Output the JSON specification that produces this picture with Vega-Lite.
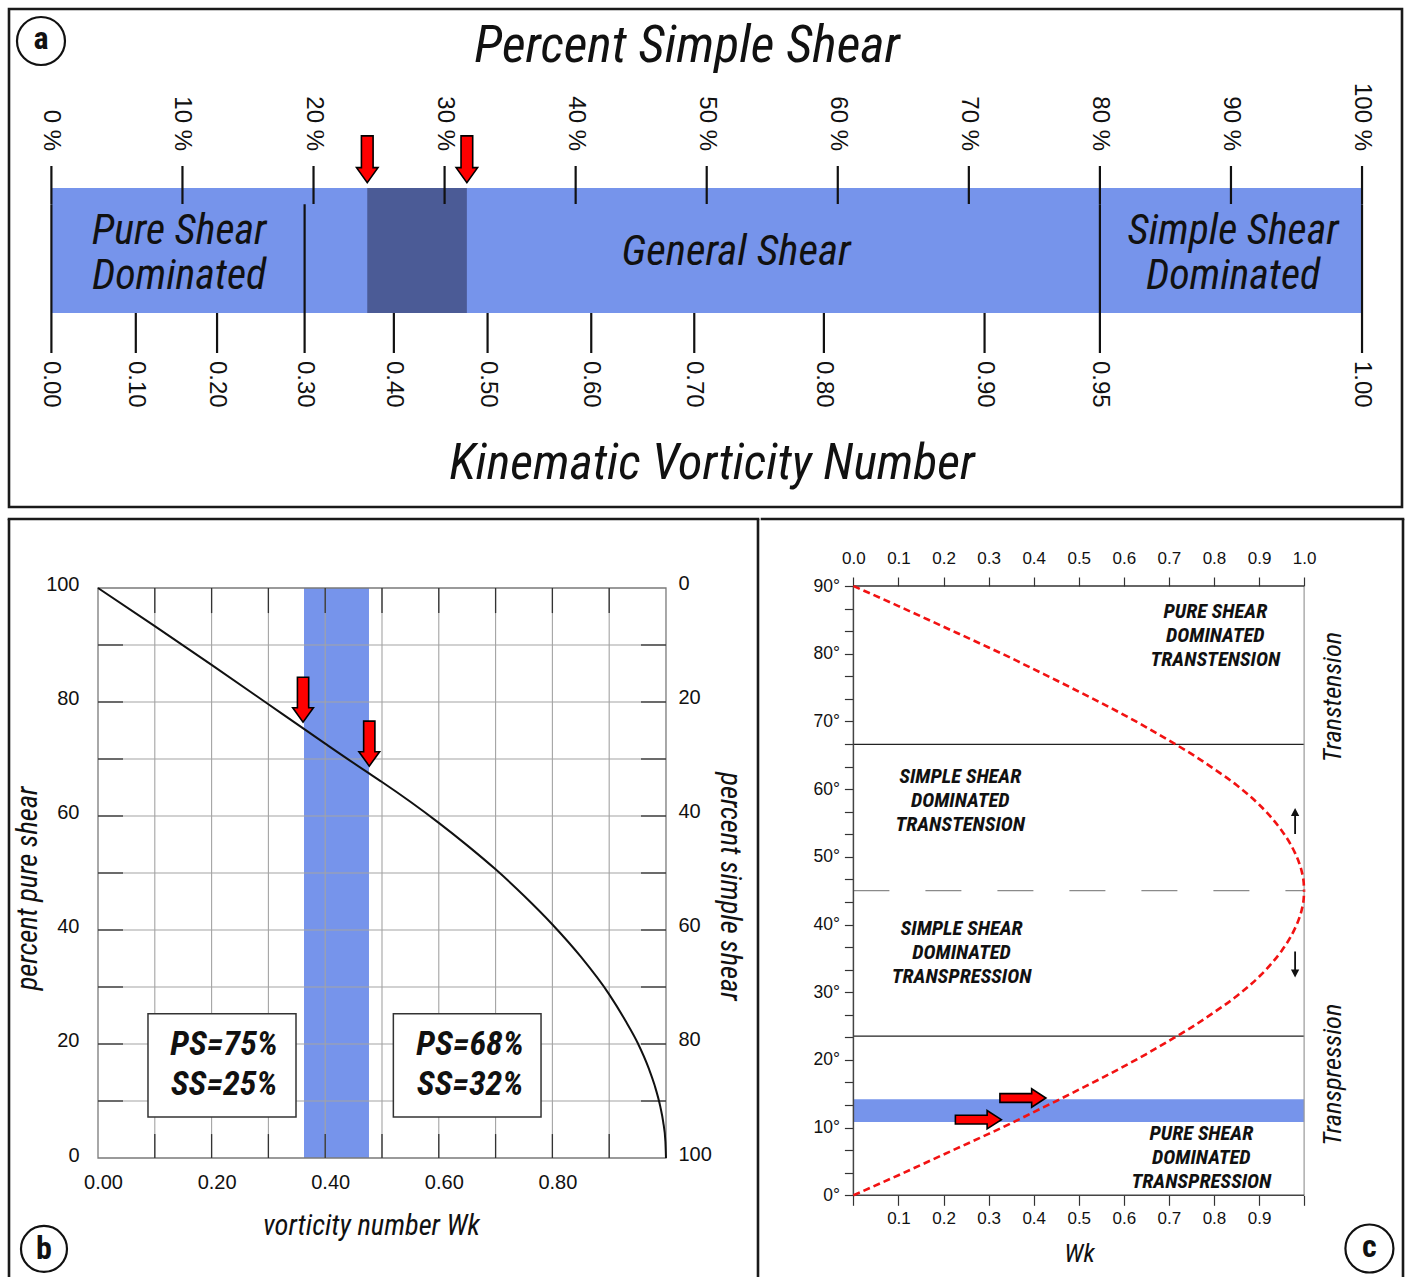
{
  "$schema": "https://vega.github.io/schema/vega-lite/v6.json",
  "background": "white",
  "padding": {"left": 7, "top": 7, "right": 2, "bottom": 0},
  "spacing": 8,
  "config": {
    "view": {"stroke": "#1a1a1a", "strokeWidth": 2.6},
    "axis": {"grid": false, "domain": false, "labelFont": "Liberation Sans, Arial, sans-serif", "labelColor": "#111", "titleFont": "Roboto Condensed, Liberation Sans Narrow, DejaVu Sans Condensed, sans-serif", "titleFontStyle": "italic", "titleFontWeight": "normal", "titleColor": "#111", "tickColor": "#333", "labelOverlap": false, "labelFlush": false, "zindex": 1}
  },
  "datasets": {
    "a_top": [
      {"ss": 0, "label": "0 %"}, {"ss": 10, "label": "10 %"}, {"ss": 20, "label": "20 %"}, {"ss": 30, "label": "30 %"},
      {"ss": 40, "label": "40 %"}, {"ss": 50, "label": "50 %"}, {"ss": 60, "label": "60 %"}, {"ss": 70, "label": "70 %"},
      {"ss": 80, "label": "80 %"}, {"ss": 90, "label": "90 %"}, {"ss": 100, "label": "100 %"}
    ],
    "a_bottom": [
      {"wk": "0.00", "ss": 0}, {"wk": "0.10", "ss": 6.44}, {"wk": "0.20", "ss": 12.64}, {"wk": "0.30", "ss": 19.32},
      {"wk": "0.40", "ss": 26.13}, {"wk": "0.50", "ss": 33.28}, {"wk": "0.60", "ss": 41.19}, {"wk": "0.70", "ss": 49.05},
      {"wk": "0.80", "ss": 58.94}, {"wk": "0.90", "ss": 71.2}, {"wk": "0.95", "ss": 80}, {"wk": "1.00", "ss": 100}
    ],
    "b_curve": [
      {"wk": 0, "ps": 100}, {"wk": 0.1, "ps": 93.3}, {"wk": 0.2, "ps": 86.5}, {"wk": 0.3, "ps": 79.6},
      {"wk": 0.36, "ps": 75.45}, {"wk": 0.4, "ps": 72.7}, {"wk": 0.47, "ps": 67.95}, {"wk": 0.5, "ps": 65.97},
      {"wk": 0.55, "ps": 62.5}, {"wk": 0.6, "ps": 58.8}, {"wk": 0.65, "ps": 54.85}, {"wk": 0.7, "ps": 50.64},
      {"wk": 0.75, "ps": 46.01}, {"wk": 0.8, "ps": 40.97}, {"wk": 0.85, "ps": 35.32}, {"wk": 0.9, "ps": 28.71},
      {"wk": 0.93, "ps": 23.85}, {"wk": 0.95, "ps": 20.22}, {"wk": 0.97, "ps": 15.63}, {"wk": 0.98, "ps": 12.75},
      {"wk": 0.99, "ps": 9.01}, {"wk": 0.995, "ps": 6.37}, {"wk": 0.999, "ps": 2.85}, {"wk": 1.0, "ps": 0}
    ],
    "c_curve": [
      {"branch": "transtension", "wk": 0, "angle": 90}, {"branch": "transtension", "wk": 0.1, "angle": 87.03},
      {"branch": "transtension", "wk": 0.2, "angle": 83.98}, {"branch": "transtension", "wk": 0.3, "angle": 80.92},
      {"branch": "transtension", "wk": 0.35, "angle": 79.36}, {"branch": "transtension", "wk": 0.4, "angle": 77.71},
      {"branch": "transtension", "wk": 0.45, "angle": 76.08}, {"branch": "transtension", "wk": 0.5, "angle": 74.4},
      {"branch": "transtension", "wk": 0.55, "angle": 72.72}, {"branch": "transtension", "wk": 0.6, "angle": 70.96},
      {"branch": "transtension", "wk": 0.65, "angle": 69.13}, {"branch": "transtension", "wk": 0.7, "angle": 67.19},
      {"branch": "transtension", "wk": 0.75, "angle": 65.2}, {"branch": "transtension", "wk": 0.8, "angle": 62.98},
      {"branch": "transtension", "wk": 0.85, "angle": 60.6}, {"branch": "transtension", "wk": 0.9, "angle": 57.72},
      {"branch": "transtension", "wk": 0.93, "angle": 55.59}, {"branch": "transtension", "wk": 0.95, "angle": 53.9},
      {"branch": "transtension", "wk": 0.97, "angle": 51.84}, {"branch": "transtension", "wk": 0.98, "angle": 50.54},
      {"branch": "transtension", "wk": 0.99, "angle": 48.9}, {"branch": "transtension", "wk": 0.995, "angle": 47.75},
      {"branch": "transtension", "wk": 0.999, "angle": 46.25}, {"branch": "transtension", "wk": 1.0, "angle": 45},
      {"branch": "transpression", "wk": 0, "angle": 0}, {"branch": "transpression", "wk": 0.1, "angle": 2.97},
      {"branch": "transpression", "wk": 0.2, "angle": 6.02}, {"branch": "transpression", "wk": 0.3, "angle": 9.08},
      {"branch": "transpression", "wk": 0.35, "angle": 10.64}, {"branch": "transpression", "wk": 0.4, "angle": 12.29},
      {"branch": "transpression", "wk": 0.45, "angle": 13.92}, {"branch": "transpression", "wk": 0.5, "angle": 15.6},
      {"branch": "transpression", "wk": 0.55, "angle": 17.28}, {"branch": "transpression", "wk": 0.6, "angle": 19.04},
      {"branch": "transpression", "wk": 0.65, "angle": 20.87}, {"branch": "transpression", "wk": 0.7, "angle": 22.81},
      {"branch": "transpression", "wk": 0.75, "angle": 24.8}, {"branch": "transpression", "wk": 0.8, "angle": 27.02},
      {"branch": "transpression", "wk": 0.85, "angle": 29.4}, {"branch": "transpression", "wk": 0.9, "angle": 32.28},
      {"branch": "transpression", "wk": 0.93, "angle": 34.41}, {"branch": "transpression", "wk": 0.95, "angle": 36.1},
      {"branch": "transpression", "wk": 0.97, "angle": 38.16}, {"branch": "transpression", "wk": 0.98, "angle": 39.46},
      {"branch": "transpression", "wk": 0.99, "angle": 41.1}, {"branch": "transpression", "wk": 0.995, "angle": 42.25},
      {"branch": "transpression", "wk": 0.999, "angle": 43.75}, {"branch": "transpression", "wk": 1.0, "angle": 45}
    ]
  },
  "vconcat": [
    {
      "width": 1393,
      "height": 498,
      "layer": [
        {
          "data": {"values": [{"zone": "shear bar", "from": 0, "to": 100}]},
          "mark": {"type": "rect", "color": "#7694EB"},
          "encoding": {
            "x": {"field": "from", "type": "quantitative", "scale": {"domain": [-3.235, 103.05], "nice": false, "zero": false}, "axis": null},
            "x2": {"field": "to"},
            "y": {"datum": 0, "type": "quantitative", "scale": {"domain": [-1.552, 2.432], "nice": false, "zero": false}, "axis": null},
            "y2": {"datum": 1}
          }
        },
        {
          "data": {"values": [{"zone": "observed range", "from": 24.1, "to": 31.7}]},
          "mark": {"type": "rect", "color": "#4B5B96"},
          "encoding": {
            "x": {"field": "from", "type": "quantitative", "axis": null},
            "x2": {"field": "to"},
            "y": {"datum": 0, "type": "quantitative", "axis": null},
            "y2": {"datum": 1}
          }
        },
        {
          "data": {"values": [{"ss": 0}, {"ss": 19.32}, {"ss": 80}, {"ss": 100}]},
          "mark": {"type": "rule", "color": "#111", "strokeWidth": 2.2},
          "encoding": {
            "x": {"field": "ss", "type": "quantitative", "axis": null},
            "y": {"datum": 0.87, "type": "quantitative", "axis": null},
            "y2": {"datum": 0}
          }
        },
        {
          "data": {"name": "a_top"},
          "mark": {"type": "rule", "color": "#111", "strokeWidth": 2.2},
          "encoding": {
            "x": {"field": "ss", "type": "quantitative", "axis": null},
            "y": {"datum": 1.176, "type": "quantitative", "axis": null},
            "y2": {"datum": 0.872}
          }
        },
        {
          "data": {"name": "a_top"},
          "mark": {"type": "text", "angle": 90, "align": "right", "baseline": "middle", "fontSize": 24, "font": "Liberation Sans, Arial, sans-serif", "color": "#111"},
          "encoding": {
            "x": {"field": "ss", "type": "quantitative", "axis": null},
            "y": {"datum": 1.296, "type": "quantitative", "axis": null},
            "text": {"field": "label"}
          }
        },
        {
          "data": {"name": "a_bottom"},
          "mark": {"type": "rule", "color": "#111", "strokeWidth": 2.2},
          "encoding": {
            "x": {"field": "ss", "type": "quantitative", "axis": null},
            "y": {"datum": 0, "type": "quantitative", "axis": null},
            "y2": {"datum": -0.32}
          }
        },
        {
          "data": {"name": "a_bottom"},
          "mark": {"type": "text", "angle": 90, "align": "left", "baseline": "middle", "fontSize": 24, "font": "Liberation Sans, Arial, sans-serif", "color": "#111"},
          "encoding": {
            "x": {"field": "ss", "type": "quantitative", "axis": null},
            "y": {"datum": -0.384, "type": "quantitative", "axis": null},
            "text": {"field": "wk"}
          }
        },
        {
          "data": {"values": [
            {"zone": "Pure Shear Dominated", "mid": 9.74, "lines": ["Pure Shear", "Dominated"]},
            {"zone": "Simple Shear Dominated", "mid": 90.16, "lines": ["Simple Shear", "Dominated"]}
          ]},
          "mark": {"type": "text", "font": "Roboto Condensed, Liberation Sans Narrow, DejaVu Sans Condensed, sans-serif", "fontStyle": "italic", "fontSize": 42, "lineHeight": 45, "baseline": "middle", "align": "center", "color": "#111"},
          "encoding": {
            "x": {"field": "mid", "type": "quantitative", "axis": null},
            "y": {"datum": 0.656, "type": "quantitative", "axis": null},
            "text": {"field": "lines"}
          }
        },
        {
          "data": {"values": [{"zone": "General Shear", "mid": 52.24, "lines": ["General Shear"]}]},
          "mark": {"type": "text", "font": "Roboto Condensed, Liberation Sans Narrow, DejaVu Sans Condensed, sans-serif", "fontStyle": "italic", "fontSize": 43, "baseline": "middle", "align": "center", "color": "#111"},
          "encoding": {
            "x": {"field": "mid", "type": "quantitative", "axis": null},
            "y": {"datum": 0.488, "type": "quantitative", "axis": null},
            "text": {"field": "lines"}
          }
        },
        {
          "data": {"values": [{"ss": 24.1}, {"ss": 31.7}]},
          "mark": {"type": "point", "shape": "M-0.25,-1L0.25,-1L0.25,0.36L0.46,0.36L0,1L-0.46,0.36L-0.25,0.36Z", "size": 2180, "filled": true, "fill": "#FF0000", "stroke": "#000", "strokeWidth": 1.6, "opacity": 1},
          "encoding": {
            "x": {"field": "ss", "type": "quantitative", "axis": null},
            "y": {"datum": 1.23, "type": "quantitative", "axis": null}
          }
        },
        {
          "data": {"values": [{}]},
          "mark": {"type": "text", "font": "Roboto Condensed, Liberation Sans Narrow, DejaVu Sans Condensed, sans-serif", "fontStyle": "italic", "fontSize": 52, "baseline": "middle", "align": "center", "color": "#111"},
          "encoding": {
            "x": {"datum": 48.5, "type": "quantitative", "axis": null},
            "y": {"datum": 2.136, "type": "quantitative", "axis": null},
            "text": {"value": "Percent Simple Shear"}
          }
        },
        {
          "data": {"values": [{}]},
          "mark": {"type": "text", "font": "Roboto Condensed, Liberation Sans Narrow, DejaVu Sans Condensed, sans-serif", "fontStyle": "italic", "fontSize": 50, "baseline": "middle", "align": "center", "color": "#111"},
          "encoding": {
            "x": {"datum": 50.4, "type": "quantitative", "axis": null},
            "y": {"datum": -1.208, "type": "quantitative", "axis": null},
            "text": {"value": "Kinematic Vorticity Number"}
          }
        },
        {
          "data": {"values": [{}]},
          "mark": {"type": "point", "shape": "circle", "size": 2304, "filled": false, "color": "#111", "strokeWidth": 2.2, "opacity": 1},
          "encoding": {
            "x": {"datum": -0.794, "type": "quantitative", "axis": null},
            "y": {"datum": 2.176, "type": "quantitative", "axis": null}
          }
        },
        {
          "data": {"values": [{}]},
          "mark": {"type": "text", "font": "Roboto Condensed, Liberation Sans Narrow, DejaVu Sans Condensed, sans-serif", "fontWeight": "bold", "fontSize": 32, "baseline": "middle", "align": "center", "color": "#111", "dy": -2},
          "encoding": {
            "x": {"datum": -0.794, "type": "quantitative", "axis": null},
            "y": {"datum": 2.176, "type": "quantitative", "axis": null},
            "text": {"value": "a"}
          }
        }
      ]
    },
    {
      "hconcat": [
        {
          "width": 749,
          "height": 760,
          "view": {"stroke": null},
          "resolve": {"axis": {"x": "independent", "y": "independent"}},
          "layer": [
            {
              "data": {"values": [{"range": "observed", "from": 0.3627, "to": 0.4771}]},
              "mark": {"type": "rect", "color": "#7694EB"},
              "encoding": {
                "x": {"field": "from", "type": "quantitative", "axis": null},
                "x2": {"field": "to"},
                "y": {"datum": 0, "type": "quantitative", "axis": null},
                "y2": {"datum": 100}
              }
            },
            {
              "data": {"values": [{"wk": 0.1}, {"wk": 0.2}, {"wk": 0.3}, {"wk": 0.4}, {"wk": 0.5}, {"wk": 0.6}, {"wk": 0.7}, {"wk": 0.8}, {"wk": 0.9}]},
              "mark": {"type": "rule", "color": "#a3a3a3", "strokeWidth": 1.1},
              "encoding": {
                "x": {"field": "wk", "type": "quantitative", "axis": null},
                "y": {"datum": 0, "type": "quantitative", "axis": null},
                "y2": {"datum": 100}
              }
            },
            {
              "data": {"values": [{"ps": 10}, {"ps": 20}, {"ps": 30}, {"ps": 40}, {"ps": 50}, {"ps": 60}, {"ps": 70}, {"ps": 80}, {"ps": 90}]},
              "mark": {"type": "rule", "color": "#a3a3a3", "strokeWidth": 1.1},
              "encoding": {
                "y": {"field": "ps", "type": "quantitative", "axis": null},
                "x": {"datum": 0, "type": "quantitative", "axis": null},
                "x2": {"datum": 1}
              }
            },
            {
              "data": {"values": [{}]},
              "mark": {"type": "rect", "fill": "transparent", "stroke": "#7a7a7a", "strokeWidth": 1.3},
              "encoding": {
                "x": {"datum": 0, "type": "quantitative", "axis": null},
                "x2": {"datum": 1},
                "y": {"datum": 0, "type": "quantitative", "axis": null},
                "y2": {"datum": 100}
              }
            },
            {
              "data": {"values": [{"wk": 0.1}, {"wk": 0.2}, {"wk": 0.3}, {"wk": 0.4}, {"wk": 0.5}, {"wk": 0.6}, {"wk": 0.7}, {"wk": 0.8}, {"wk": 0.9}]},
              "mark": {"type": "rule", "color": "#333", "strokeWidth": 1.3},
              "encoding": {
                "x": {"field": "wk", "type": "quantitative", "axis": null},
                "y": {"datum": 100, "type": "quantitative", "axis": null},
                "y2": {"datum": 95.6}
              }
            },
            {
              "data": {"values": [{"wk": 0.1}, {"wk": 0.2}, {"wk": 0.3}, {"wk": 0.4}, {"wk": 0.5}, {"wk": 0.6}, {"wk": 0.7}, {"wk": 0.8}, {"wk": 0.9}]},
              "mark": {"type": "rule", "color": "#333", "strokeWidth": 1.3},
              "encoding": {
                "x": {"field": "wk", "type": "quantitative",
                  "axis": {"orient": "bottom", "offset": -121, "values": [0, 0.2, 0.4, 0.6, 0.8], "format": ".2f", "ticks": false, "labelPadding": 14, "labelFontSize": 20, "labelOffset": 5, "title": "vorticity number Wk", "titleFontSize": 28.5, "titlePadding": 19, "titleX": 362}},
                "y": {"datum": 0, "type": "quantitative", "axis": null},
                "y2": {"datum": 4.2}
              }
            },
            {
              "data": {"values": [{"ps": 10}, {"ps": 20}, {"ps": 30}, {"ps": 40}, {"ps": 50}, {"ps": 60}, {"ps": 70}, {"ps": 80}, {"ps": 90}]},
              "mark": {"type": "rule", "color": "#333", "strokeWidth": 1.3},
              "encoding": {
                "y": {"field": "ps", "type": "quantitative",
                  "axis": {"orient": "left", "offset": -89, "values": [0, 20, 40, 60, 80, 100], "ticks": false, "labelPadding": 19, "labelFontSize": 20, "labelOffset": -3, "title": "percent pure shear", "titleFontSize": 28.5, "titlePadding": 3, "titleY": 369}},
                "x": {"datum": 0, "type": "quantitative", "axis": null},
                "x2": {"datum": 0.044}
              }
            },
            {
              "data": {"values": [{"ps": 10}, {"ps": 20}, {"ps": 30}, {"ps": 40}, {"ps": 50}, {"ps": 60}, {"ps": 70}, {"ps": 80}, {"ps": 90}]},
              "mark": {"type": "rule", "color": "#333", "strokeWidth": 1.3},
              "encoding": {
                "x": {"datum": 0.956, "type": "quantitative", "axis": null},
                "x2": {"datum": 1},
                "y": {"field": "ps", "type": "quantitative",
                  "axis": {"orient": "right", "offset": -92, "values": [0, 20, 40, 60, 80, 100], "labelExpr": "format(100 - datum.value, 'd')", "ticks": false, "labelPadding": 12, "labelFontSize": 20, "labelOffset": -4, "title": "percent simple shear", "titleFontSize": 28.5, "titlePadding": 3, "titleAngle": 90, "titleY": 367}}
              }
            },
            {
              "data": {"name": "b_curve"},
              "mark": {"type": "line", "color": "#111", "strokeWidth": 2, "interpolate": "monotone"},
              "encoding": {
                "x": {"field": "wk", "type": "quantitative", "scale": {"domain": [-0.1567, 1.162], "nice": false, "zero": false}, "axis": null},
                "y": {"field": "ps", "type": "quantitative", "scale": {"domain": [-21.228, 112.105], "nice": false, "zero": false}, "axis": null}
              }
            },
            {
              "data": {"values": [
                {"x1": 0.088, "x2": 0.3486, "y1": 7.2, "y2": 25.3},
                {"x1": 0.52, "x2": 0.78, "y1": 7.2, "y2": 25.3}
              ]},
              "mark": {"type": "rect", "fill": "white", "stroke": "#333", "strokeWidth": 1.5},
              "encoding": {
                "x": {"field": "x1", "type": "quantitative", "axis": null},
                "x2": {"field": "x2"},
                "y": {"field": "y1", "type": "quantitative", "axis": null},
                "y2": {"field": "y2"}
              }
            },
            {
              "data": {"values": [
                {"cx": 0.222, "cy": 19.8, "lines": ["PS=75%", "SS=25%"]},
                {"cx": 0.655, "cy": 19.8, "lines": ["PS=68%", "SS=32%"]}
              ]},
              "mark": {"type": "text", "font": "Roboto Condensed, Liberation Sans Narrow, DejaVu Sans Condensed, sans-serif", "fontStyle": "italic", "fontWeight": "bold", "fontSize": 34, "lineHeight": 40, "baseline": "middle", "align": "center", "color": "#111"},
              "encoding": {
                "x": {"field": "cx", "type": "quantitative", "axis": null},
                "y": {"field": "cy", "type": "quantitative", "axis": null},
                "text": {"field": "lines"}
              }
            },
            {
              "data": {"values": [{"wk": 0.361, "ps": 80.4}, {"wk": 0.4776, "ps": 72.7}]},
              "mark": {"type": "point", "shape": "M-0.25,-1L0.25,-1L0.25,0.36L0.46,0.36L0,1L-0.46,0.36L-0.25,0.36Z", "size": 2025, "filled": true, "fill": "#FF0000", "stroke": "#000", "strokeWidth": 1.6, "opacity": 1},
              "encoding": {
                "x": {"field": "wk", "type": "quantitative", "axis": null},
                "y": {"field": "ps", "type": "quantitative", "axis": null}
              }
            },
            {
              "data": {"values": [{}]},
              "mark": {"type": "rule", "color": "#1a1a1a", "strokeWidth": 2.6, "strokeCap": "square"},
              "encoding": {
                "x": {"datum": -0.1567, "type": "quantitative", "axis": null},
                "x2": {"datum": 1.162},
                "y": {"datum": 112.105, "type": "quantitative", "axis": null}
              }
            },
            {
              "data": {"values": [{"edge": -0.1567}, {"edge": 1.162}]},
              "mark": {"type": "rule", "color": "#1a1a1a", "strokeWidth": 2.6},
              "encoding": {
                "x": {"field": "edge", "type": "quantitative", "axis": null},
                "y": {"datum": -21.228, "type": "quantitative", "axis": null},
                "y2": {"datum": 112.105}
              }
            },
            {
              "data": {"values": [{}]},
              "mark": {"type": "point", "shape": "circle", "size": 2116, "filled": false, "color": "#111", "strokeWidth": 2.2, "opacity": 1},
              "encoding": {
                "x": {"datum": -0.0951, "type": "quantitative", "axis": null},
                "y": {"datum": -15.96, "type": "quantitative", "axis": null}
              }
            },
            {
              "data": {"values": [{}]},
              "mark": {"type": "text", "font": "Roboto Condensed, Liberation Sans Narrow, DejaVu Sans Condensed, sans-serif", "fontWeight": "bold", "fontSize": 32, "baseline": "middle", "align": "center", "color": "#111"},
              "encoding": {
                "x": {"datum": -0.0951, "type": "quantitative", "axis": null},
                "y": {"datum": -15.96, "type": "quantitative", "axis": null},
                "text": {"value": "b"}
              }
            }
          ]
        },
        {
          "width": 641,
          "height": 760,
          "view": {"stroke": null},
          "resolve": {"axis": {"x": "independent", "y": "independent"}},
          "layer": [
            {
              "data": {"values": [{"range": "observed", "from": 10.83, "to": 14.18}]},
              "mark": {"type": "rect", "color": "#7694EB"},
              "encoding": {
                "x": {"datum": 0, "type": "quantitative", "axis": null},
                "x2": {"datum": 1},
                "y": {"field": "from", "type": "quantitative", "axis": null},
                "y2": {"field": "to"}
              }
            },
            {
              "data": {"values": [{"angle": 45}]},
              "mark": {"type": "rule", "color": "#8a8a8a", "strokeWidth": 1.3, "strokeDash": [36, 36]},
              "encoding": {
                "y": {"field": "angle", "type": "quantitative", "axis": null},
                "x": {"datum": 0, "type": "quantitative", "axis": null},
                "x2": {"datum": 1}
              }
            },
            {
              "data": {"values": [{"angle": 66.6}, {"angle": 23.5}]},
              "mark": {"type": "rule", "color": "#222", "strokeWidth": 1.2},
              "encoding": {
                "y": {"field": "angle", "type": "quantitative", "axis": null},
                "x": {"datum": 0, "type": "quantitative", "axis": null},
                "x2": {"datum": 1}
              }
            },
            {
              "data": {"values": [{}]},
              "mark": {"type": "rule", "color": "#444", "strokeWidth": 1.5},
              "encoding": {
                "x": {"datum": 0, "type": "quantitative", "axis": null},
                "y": {"datum": 0, "type": "quantitative",
                  "axis": {"orient": "left", "offset": -91.4, "values": [0, 3.3333, 6.6667, 10, 13.3333, 16.6667, 20, 23.3333, 26.6667, 30, 33.3333, 36.6667, 40, 43.3333, 46.6667, 50, 53.3333, 56.6667, 60, 63.3333, 66.6667, 70, 73.3333, 76.6667, 80, 83.3333, 86.6667, 90], "labelExpr": "datum.value % 10 == 0 ? datum.value + '°' : ''", "tickSize": 9, "tickWidth": 1.2, "labelPadding": 5, "labelFontSize": 17.5, "title": null}},
                "y2": {"datum": 90}
              }
            },
            {
              "data": {"values": [{}]},
              "mark": {"type": "rule", "color": "#999", "strokeWidth": 1.2},
              "encoding": {
                "x": {"datum": 1, "type": "quantitative", "axis": null},
                "y": {"datum": 0, "type": "quantitative", "axis": null},
                "y2": {"datum": 90}
              }
            },
            {
              "data": {"values": [{}]},
              "mark": {"type": "rule", "color": "#444", "strokeWidth": 1.5},
              "encoding": {
                "x": {"datum": 0, "type": "quantitative",
                  "axis": {"orient": "bottom", "offset": -83.7, "values": [0, 0.1, 0.2, 0.3, 0.4, 0.5, 0.6, 0.7, 0.8, 0.9, 1.0], "labelExpr": "datum.value > 0.05 && datum.value < 0.95 ? format(datum.value, '.1f') : ''", "tickSize": 10, "tickWidth": 1.2, "labelPadding": 5, "labelFontSize": 17, "title": "Wk", "titleFontSize": 26, "titlePadding": 14, "titleX": 317}},
                "x2": {"datum": 1},
                "y": {"datum": 0, "type": "quantitative", "axis": null}
              }
            },
            {
              "data": {"values": [{}]},
              "mark": {"type": "rule", "color": "#333", "strokeWidth": 1.5},
              "encoding": {
                "x": {"datum": 0, "type": "quantitative",
                  "axis": {"orient": "top", "offset": -67, "values": [0, 0.1, 0.2, 0.3, 0.4, 0.5, 0.6, 0.7, 0.8, 0.9, 1.0], "format": ".1f", "tickSize": 9, "tickWidth": 1.2, "labelPadding": 10, "labelFontSize": 17, "title": null}},
                "x2": {"datum": 1},
                "y": {"datum": 90, "type": "quantitative", "axis": null}
              }
            },
            {
              "data": {"name": "c_curve"},
              "mark": {"type": "line", "color": "#F21212", "strokeWidth": 2.6, "strokeDash": [7, 4], "interpolate": "monotone"},
              "encoding": {
                "x": {"field": "wk", "type": "quantitative", "scale": {"domain": [-0.2028, 1.2194], "nice": false, "zero": false}, "axis": null},
                "y": {"field": "angle", "type": "quantitative", "scale": {"domain": [-12.363, 99.897], "nice": false, "zero": false}, "axis": null},
                "detail": {"field": "branch", "type": "nominal"}
              }
            },
            {
              "data": {"values": [
                {"zone": "pure shear dominated transtension", "wk": 0.803, "angle": 86.16, "lines": ["PURE SHEAR", "DOMINATED", "TRANSTENSION"]},
                {"zone": "simple shear dominated transtension", "wk": 0.237, "angle": 61.8, "lines": ["SIMPLE SHEAR", "DOMINATED", "TRANSTENSION"]},
                {"zone": "simple shear dominated transpression", "wk": 0.24, "angle": 39.35, "lines": ["SIMPLE SHEAR", "DOMINATED", "TRANSPRESSION"]},
                {"zone": "pure shear dominated transpression", "wk": 0.772, "angle": 9.05, "lines": ["PURE SHEAR", "DOMINATED", "TRANSPRESSION"]}
              ]},
              "mark": {"type": "text", "font": "Roboto Condensed, Liberation Sans Narrow, DejaVu Sans Condensed, sans-serif", "fontStyle": "italic", "fontWeight": "bold", "fontSize": 20.5, "lineHeight": 24, "baseline": "middle", "align": "center", "color": "#111"},
              "encoding": {
                "x": {"field": "wk", "type": "quantitative", "axis": null},
                "y": {"field": "angle", "type": "quantitative", "axis": null},
                "text": {"field": "lines"}
              }
            },
            {
              "data": {"values": [{"dir": "up", "wk": 0.98, "angle": 55.3}, {"dir": "down", "wk": 0.98, "angle": 34.1}]},
              "mark": {"type": "point", "size": 676, "filled": true, "color": "#111", "opacity": 1},
              "encoding": {
                "x": {"field": "wk", "type": "quantitative", "axis": null},
                "y": {"field": "angle", "type": "quantitative", "axis": null},
                "shape": {"field": "dir", "type": "nominal", "legend": null, "scale": {"domain": ["up", "down"], "range": ["M0,-1L0.32,-0.38L0.07,-0.38L0.07,1L-0.07,1L-0.07,-0.38L-0.32,-0.38Z", "M0,1L0.32,0.38L0.07,0.38L0.07,-1L-0.07,-1L-0.07,0.38L-0.32,0.38Z"]}}
              }
            },
            {
              "data": {"values": [{"wk": 0.2773, "angle": 11.17}, {"wk": 0.3761, "angle": 14.37}]},
              "mark": {"type": "point", "shape": "M-1,-0.19L0.38,-0.19L0.38,-0.4L1,0L0.38,0.4L0.38,0.19L-1,0.19Z", "size": 2116, "filled": true, "fill": "#FF0000", "stroke": "#000", "strokeWidth": 1.6, "opacity": 1},
              "encoding": {
                "x": {"field": "wk", "type": "quantitative", "axis": null},
                "y": {"field": "angle", "type": "quantitative", "axis": null}
              }
            },
            {
              "data": {"values": [{"t": "Transtension", "wk": 1.065, "angle": 73.6}, {"t": "Transpression", "wk": 1.063, "angle": 17.8}]},
              "mark": {"type": "text", "angle": 270, "font": "Roboto Condensed, Liberation Sans Narrow, DejaVu Sans Condensed, sans-serif", "fontStyle": "italic", "fontSize": 26.3, "baseline": "middle", "align": "center", "color": "#111"},
              "encoding": {
                "x": {"field": "wk", "type": "quantitative", "axis": null},
                "y": {"field": "angle", "type": "quantitative", "axis": null},
                "text": {"field": "t"}
              }
            },
            {
              "data": {"values": [{}]},
              "mark": {"type": "rule", "color": "#1a1a1a", "strokeWidth": 2.6, "strokeCap": "square"},
              "encoding": {
                "x": {"datum": -0.2028, "type": "quantitative", "axis": null},
                "x2": {"datum": 1.2194},
                "y": {"datum": 99.897, "type": "quantitative", "axis": null}
              }
            },
            {
              "data": {"values": [{}]},
              "mark": {"type": "rule", "color": "#1a1a1a", "strokeWidth": 2.6},
              "encoding": {
                "x": {"datum": 1.2194, "type": "quantitative", "axis": null},
                "y": {"datum": -12.363, "type": "quantitative", "axis": null},
                "y2": {"datum": 99.897}
              }
            },
            {
              "data": {"values": [{}]},
              "mark": {"type": "point", "shape": "circle", "size": 2304, "filled": false, "color": "#111", "strokeWidth": 2.2, "opacity": 1},
              "encoding": {
                "x": {"datum": 1.1449, "type": "quantitative", "axis": null},
                "y": {"datum": -7.86, "type": "quantitative", "axis": null}
              }
            },
            {
              "data": {"values": [{}]},
              "mark": {"type": "text", "font": "Roboto Condensed, Liberation Sans Narrow, DejaVu Sans Condensed, sans-serif", "fontWeight": "bold", "fontSize": 32, "baseline": "middle", "align": "center", "color": "#111", "dy": -2},
              "encoding": {
                "x": {"datum": 1.1449, "type": "quantitative", "axis": null},
                "y": {"datum": -7.86, "type": "quantitative", "axis": null},
                "text": {"value": "c"}
              }
            }
          ]
        }
      ],
      "spacing": 0
    }
  ]
}
